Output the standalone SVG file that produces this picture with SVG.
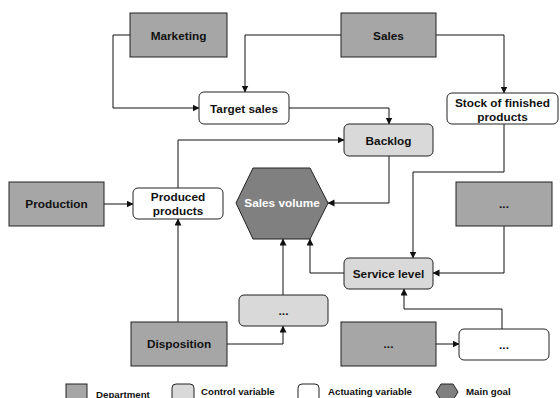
<svg xmlns="http://www.w3.org/2000/svg" width="560" height="398" viewBox="0 0 560 398">
<style>
text{font-family:"Liberation Sans",Arial,sans-serif;font-weight:bold;font-size:11.8px;fill:#111;text-anchor:middle}
.dept{fill:#a6a6a6;stroke:#222;stroke-width:1}
.ctrl{fill:#d9d9d9;stroke:#222;stroke-width:1}
.act{fill:#fff;stroke:#222;stroke-width:1}
.goal{fill:#808080;stroke:#222;stroke-width:1}
.conn path{fill:none;stroke:#111;stroke-width:1;marker-end:url(#ah)}
.leg text{font-size:9.7px;text-anchor:start}
</style>
<defs>
<marker id="ah" markerUnits="userSpaceOnUse" markerWidth="8" markerHeight="8" refX="6.5" refY="3.5" orient="auto">
<path d="M0,0 L7,3.5 L0,7 z" fill="#111"/>
</marker>
</defs>
<rect width="560" height="398" fill="#fff"/>
<g class="conn">
<path d="M130,35 H113 V108 H199"/>
<path d="M341,35 H245 V92"/>
<path d="M436,35 H504 V93"/>
<path d="M289,108 H389 V124"/>
<path d="M178,188 V140 H344"/>
<path d="M104,204 H133"/>
<path d="M389,156 V203 H328"/>
<path d="M504,124 V172 H413 V258"/>
<path d="M504,226 V273 H433"/>
<path d="M344,273 H310 V239"/>
<path d="M283,295 V239"/>
<path d="M178,322 V219"/>
<path d="M227,344 H283 V326"/>
<path d="M436,344 H459"/>
<path d="M502,329 V309 H404 V289"/>
</g>
<g id="marketing"><rect class="dept" x="130" y="13" width="97" height="44"/><text x="178.5" y="40">Marketing</text></g>
<g id="sales"><rect class="dept" x="341" y="13" width="95" height="44"/><text x="388.5" y="40">Sales</text></g>
<g id="target-sales"><rect class="act" x="199" y="92" width="90" height="32" rx="5"/><text x="244" y="112.5">Target sales</text></g>
<g id="stock"><rect class="act" x="447" y="93" width="111" height="31" rx="5"/><text x="502.5" y="107">Stock of finished</text><text x="502.5" y="121">products</text></g>
<g id="backlog"><rect class="ctrl" x="344" y="124" width="89" height="32" rx="5"/><text x="388.5" y="144.5">Backlog</text></g>
<g id="production"><rect class="dept" x="9" y="182" width="95" height="44"/><text x="56.5" y="208">Production</text></g>
<g id="produced-products"><rect class="act" x="133" y="188" width="90" height="31" rx="5"/><text x="178" y="201">Produced</text><text x="178" y="215">products</text></g>
<g id="sales-volume"><polygon class="goal" points="236,203 253,168 310,168 328,203 310,239 253,239"/><text x="282" y="207" style="fill:#fff">Sales volume</text></g>
<g id="dept-right"><rect class="dept" x="456" y="182" width="96" height="44"/><text x="504" y="208">...</text></g>
<g id="service-level"><rect class="ctrl" x="344" y="258" width="89" height="31" rx="5"/><text x="388.5" y="278">Service level</text></g>
<g id="control-dots"><rect class="ctrl" x="239" y="295" width="89" height="31" rx="5"/><text x="283.5" y="314.5">...</text></g>
<g id="disposition"><rect class="dept" x="131" y="322" width="96" height="44"/><text x="179" y="348">Disposition</text></g>
<g id="dept-bottom"><rect class="dept" x="341" y="322" width="95" height="44"/><text x="388.5" y="348">...</text></g>
<g id="actuating-dots"><rect class="act" x="459" y="329" width="90" height="31" rx="5"/><text x="504" y="348.5">...</text></g>
<g id="legend" class="leg">
<rect class="dept" x="66" y="384" width="21" height="20"/><text x="96" y="397.5">Department</text>
<rect class="ctrl" x="172" y="384" width="22" height="20" rx="4"/><text x="201" y="394.5">Control variable</text>
<rect class="act" x="298" y="384" width="21" height="20" rx="4"/><text x="328" y="394.5">Actuating variable</text>
<polygon class="goal" points="436,392 441,384 453,384 458,392 453,400 441,400"/><text x="466" y="394.5">Main goal</text>
</g>
</svg>
